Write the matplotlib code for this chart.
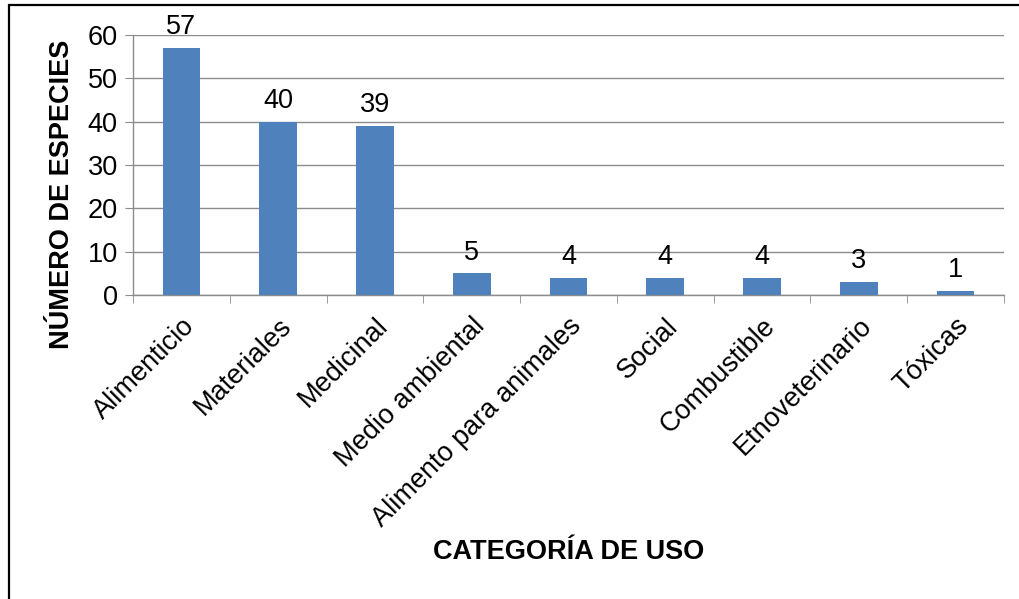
import matplotlib
matplotlib.use('Agg')
import matplotlib.pyplot as plt
import numpy as np
from matplotlib.patches import Rectangle

plt.rcParams['font.family'] = ['Liberation Sans', 'DejaVu Sans']

categorias = ['Alimenticio', 'Materiales', 'Medicinal', 'Medio ambiental',
              'Alimento para animales', 'Social', 'Combustible',
              'Etnoveterinario', 'Tóxicas']
especies = [57, 40, 39, 5, 4, 4, 4, 3, 1]
y_ticks = [0, 10, 20, 30, 40, 50, 60]

BAR = '#4F81BD'
GRID = '#8C8C8C'
FS = 19.5

fig = plt.figure(figsize=(10.2, 5.99), dpi=100)
ax = fig.add_axes([0.1304, 0.5075, 0.8539, 0.4341])

x = np.arange(len(categorias))
ax.bar(x, especies, width=0.39, color=BAR, zorder=3)

for xi, v in zip(x, especies):
    ax.annotate(str(v), (xi, v), xytext=(0, 5.5), textcoords='offset points',
                ha='center', va='bottom', fontsize=FS)

ax.set_xlim(-0.5, len(categorias) - 0.5)
ax.set_ylim(0, 60)
ax.set_yticks(y_ticks)
ax.yaxis.grid(True, color=GRID, lw=1.0, zorder=0)
ax.tick_params(axis='y', length=6, color=GRID, labelsize=FS, pad=5)

ax.set_xticks(x)
ax.set_xticklabels(categorias, rotation=45, ha='right', rotation_mode='anchor',
                   fontsize=FS)
ax.tick_params(axis='x', which='major', length=0, pad=13)
ax.set_xticks(np.arange(len(categorias) + 1) - 0.5, minor=True)
ax.tick_params(axis='x', which='minor', length=6, color=GRID)

for side in ['top', 'right']:
    ax.spines[side].set_visible(False)
for side in ['left', 'bottom']:
    ax.spines[side].set_color(GRID)
    ax.spines[side].set_linewidth(1.0)

fig.text(0.061, 0.675, 'NÚMERO DE ESPECIES', rotation=90, ha='center',
         va='center', fontsize=FS, fontweight='bold')
fig.text(0.557, 0.078, 'CATEGORÍA DE USO', ha='center', va='center',
         fontsize=FS, fontweight='bold')

# marco exterior del gráfico
fig.patches.append(Rectangle((0.0085, -0.05), 1.05, 1.0417,
                             transform=fig.transFigure, fill=False,
                             edgecolor='black', lw=1.6))

fig.savefig('out.png', dpi=100)
